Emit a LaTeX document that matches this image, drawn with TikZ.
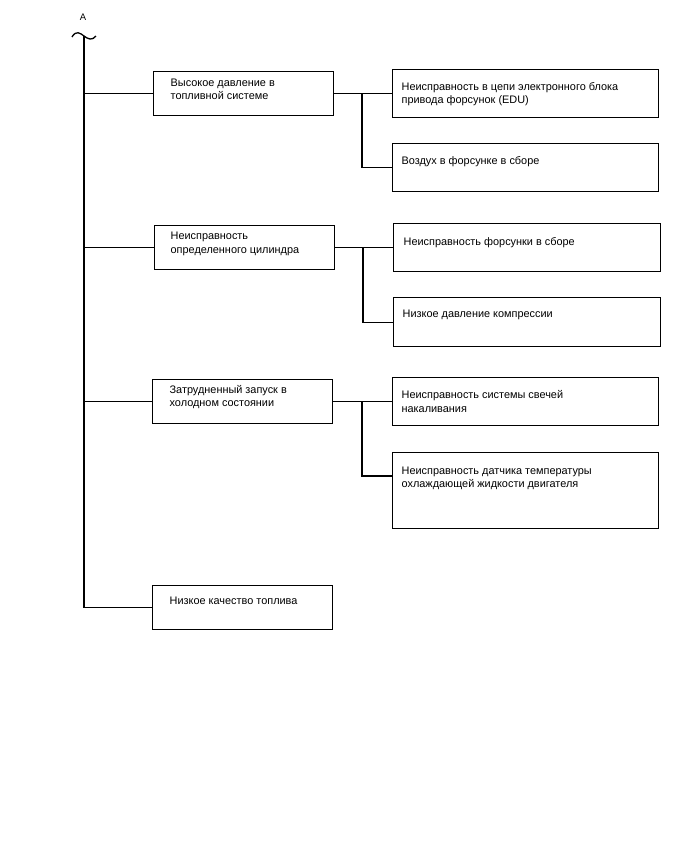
\documentclass[tikz,border=0pt]{standalone}
\usepackage{fontspec}
\setmainfont{Liberation Sans}
\usetikzlibrary{positioning, calc}

\tikzset{
  box/.style={draw, anchor=north west, inner sep=0pt, minimum width=#1},
  box/.default=180pt,
  lbl/.style={anchor=base west, inner sep=0pt, align=left,
    font=\fontsize{10.9}{13.5}\selectfont},
}

\begin{document}
\begin{tikzpicture}[x=1pt, y=-1pt, line width=1.3pt]
	\useasboundingbox (0, 0) rectangle (688, 852);

	% trunk with break mark
	\node[inner sep=0pt, font=\fontsize{9.5}{10}\selectfont] (mark) at (83, 17) {A};
	\coordinate (top) at (84, 36);
	\draw (72, 37) .. controls (76, 30) and (80, 33) .. (top)
		.. controls (88, 39) and (92, 41) .. (96, 36);

	% first level
	\node[box, minimum height=44pt] (hi) at (153, 71) {};
	\node[box, minimum height=44pt] (cyl) at (154, 225) {};
	\node[box, minimum height=44pt] (cold) at (152, 379) {};
	\node[box, minimum height=44pt] (fuel) at (152, 585) {};
	\node[lbl] (hiT) at (170, 99.5) {Высокое давление в\\топливной системе};
	\node[lbl] (cylT) at (170, 253) {Неисправность\\определенного цилиндра};
	\node[lbl] (coldT) at (169, 406.5) {Затрудненный запуск в\\холодном состоянии};
	\node[lbl] (fuelT) at (169, 604.5) {Низкое качество топлива};

	% second level
	\node[box=266pt, minimum height=48pt] (edu) at (392, 69) {};
	\node[box=266pt, minimum height=48pt] (air) at (392, 143) {};
	\node[box=267pt, minimum height=48pt] (inj) at (393, 223) {};
	\node[box=267pt, minimum height=49pt] (comp) at (393, 297) {};
	\node[box=266pt, minimum height=48pt] (glow) at (392, 377) {};
	\node[box=266pt, minimum height=76pt] (ect) at (392, 452) {};
	\node[lbl] (eduT) at (401, 103.5) {Неисправность в цепи электронного блока\\привода форсунок (EDU)};
	\node[lbl] (airT) at (401, 164) {Воздух в форсунке в сборе};
	\node[lbl] (injT) at (403, 245.5) {Неисправность форсунки в сборе};
	\node[lbl] (compT) at (402, 317) {Низкое давление компрессии};
	\node[lbl] (glowT) at (401, 412) {Неисправность системы свечей\\накаливания};
	\node[lbl] (ectT) at (401, 487.5) {Неисправность датчика температуры\\охлаждающей жидкости двигателя};
	\coordinate (ectIn) at ($(ect.north west) + (0, 24)$);

	% connectors
	\draw (top) |- (fuel.west);
	\foreach \b in {hi, cyl, cold}
		\draw (top |- \b.west) -- (\b.west);
	\draw (hi.east) -- (edu.west);
	\draw (362, 93) |- (air.west);
	\draw (cyl.east) -- (inj.west);
	\draw (363, 247) |- (comp.west);
	\draw (cold.east) -- (glow.west);
	\draw (362, 401) |- (ectIn);
\end{tikzpicture}
\end{document}
